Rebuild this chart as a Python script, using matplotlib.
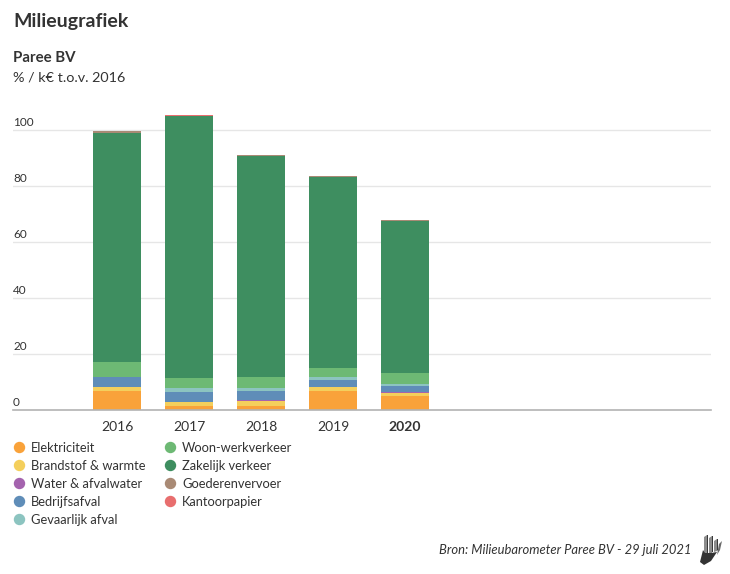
#!/usr/bin/env python3
"""plot.py - Milieugrafiek: stacked bars per year for Paree BV."""

import matplotlib
matplotlib.use('Agg')
import matplotlib.pyplot as plt
from matplotlib.lines import Line2D
from matplotlib.patches import Polygon

W, H = 730, 574

years = ['2016', '2017', '2018', '2019', '2020']
ticks = [0, 20, 40, 60, 80, 100]

categories = ['Elektriciteit', 'Brandstof & warmte', 'Water & afvalwater', 'Bedrijfsafval',
              'Gevaarlijk afval', 'Woon-werkverkeer', 'Zakelijk verkeer', 'Goederenvervoer',
              'Kantoorpapier']
colors = ['#F9A23A', '#F4CF5C', '#A463AE', '#5F8DB8', '#8CC4C0', '#6DB974', '#3E8E60',
          '#A98A75', '#E86E6E']

elektriciteit = [6.8, 1.4, 1.4, 6.8, 4.9]
brandstof = [1.4, 1.4, 1.9, 1.4, 1.3]
water = [0.1, 0.1, 0.1, 0.1, 0.1]
bedrijfsafval = [3.4, 3.6, 3.5, 2.4, 2.4]
gevaarlijk = [0.2, 1.2, 0.9, 1.0, 0.7]
woonwerk = [5.2, 3.7, 4.0, 3.3, 3.9]
zakelijk = [82.0, 93.5, 79.0, 68.3, 54.2]
goederen = [0.4, 0.1, 0.2, 0.3, 0.25]
papier = [0.3, 0.4, 0.1, 0.1, 0.1]
series = [elektriciteit, brandstof, water, bedrijfsafval, gevaarlijk, woonwerk, zakelijk,
          goederen, papier]

plt.rcParams['font.family'] = ['Lato', 'DejaVu Sans']
TEXT = '#333333'


def fx(x):
    return x / W


def fy(y):
    return 1 - y / H


fig = plt.figure(figsize=(W / 100, H / 100), dpi=100)
ax = fig.add_axes([fx(13), fy(410), (711 - 13) / W, (410 - 102) / H])

# bars
bottom = [0.0] * len(years)
for vals, name, col in zip(series, categories, colors):
    ax.bar(range(len(years)), vals, width=48 / 72, bottom=bottom, color=col, label=name, zorder=3)
    bottom = [b + v for b, v in zip(bottom, vals)]

ax.set_xlim((13 - 117) / 72, (711 - 117) / 72)
ax.set_ylim(0, 110)
ax.set_xticks(range(len(years)))
ax.set_xticklabels(years, fontsize=10, color=TEXT)
ax.get_xticklabels()[-1].set_fontweight('bold')
ax.tick_params(axis='x', length=0, pad=8)
ax.set_yticks([])

for s in ['top', 'left', 'right']:
    ax.spines[s].set_visible(False)
ax.spines['bottom'].set_color('#b3b3b3')
ax.spines['bottom'].set_linewidth(1.2)
ax.spines['bottom'].set_zorder(4)

# y labels sit on top of the gridlines, at the left edge
for t in ticks:
    if t > 0:
        ax.axhline(t, color='#e6e6e6', linewidth=1, zorder=1)
    ax.annotate(str(t), xy=(0, t), xycoords=ax.get_yaxis_transform(), xytext=(0, 1.5),
                textcoords='offset points', fontsize=8.5, color=TEXT, va='bottom', ha='left')

# titles
fig.text(fx(13), fy(21), 'Milieugrafiek', fontsize=14, fontweight='bold', color=TEXT, va='center')
fig.text(fx(13), fy(58), 'Paree BV', fontsize=10.8, fontweight='bold', color=TEXT, va='center')
fig.text(fx(13), fy(78), '% / k€ t.o.v. 2016', fontsize=10.4, color=TEXT, va='center')

# legend, two columns filled top down
for i, (name, col) in enumerate(zip(categories, colors)):
    x0 = 19 if i < 5 else 170
    y0 = 447 + 18 * (i if i < 5 else i - 5)
    fig.add_artist(Line2D([fx(x0)], [fy(y0)], marker='o', markersize=7.2, color=col, linestyle='none'))
    fig.text(fx(x0 + 12), fy(y0 + 0.7), name, fontsize=9.3, color=TEXT, va='center')

fig.text(fx(691), fy(550), 'Bron: Milieubarometer Paree BV - 29 juli 2021', fontsize=9.4,
         fontstyle='italic', color=TEXT, va='center', ha='right')

# hand logo: grey fingers with a dark edge, dark palm
logo = [
    ([(704, 537), (707, 535), (707, 553), (704, 553)], '#8c8c8c'),
    ([(707, 535), (708, 535), (708, 553), (707, 553)], '#3a3a3a'),
    ([(709, 538), (712, 536), (712, 553), (709, 553)], '#8c8c8c'),
    ([(712, 536), (713, 536), (713, 552), (712, 552)], '#3a3a3a'),
    ([(714, 541), (717, 539), (717, 551), (714, 552)], '#8c8c8c'),
    ([(717, 539), (718, 539), (718, 550), (717, 551)], '#3a3a3a'),
    ([(719, 544), (722, 541), (720, 550), (717, 555)], '#6a6a6a'),
    ([(703, 550), (705, 553), (711, 553), (717, 552), (711, 561), (704, 565), (700, 562)], '#333333'),
]
for pts, col in logo:
    fig.add_artist(Polygon([(fx(x), fy(y)) for x, y in pts], closed=True, color=col,
                           transform=fig.transFigure, linewidth=0))

fig.savefig('out.png', dpi=100)
plt.close(fig)
